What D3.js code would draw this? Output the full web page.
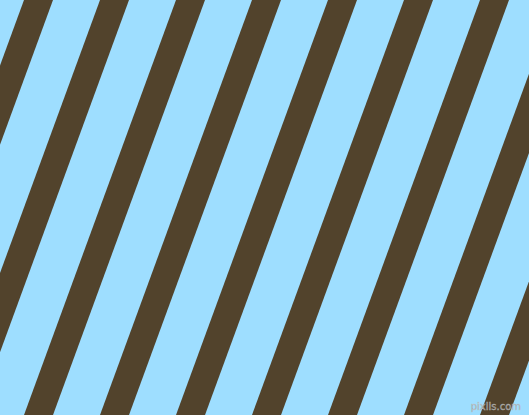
<!DOCTYPE html>
<html>
<head>
<meta charset="utf-8">
<script src="https://d3js.org/d3.v7.min.js"></script>
<style>
  html, body { margin: 0; padding: 0; background: #9edeff; overflow: hidden; }
  svg { display: block; }
</style>
</head>
<body>
<div id="stripes"></div>
<script>
// stripe data
var stripeIndex = [0, 1, 2, 3, 4, 5, 6, 7, 8];
var stripeColors = ["#9edeff", "#52432c"];   // background, stripe
var watermark = ["pixlis.com"];

function stripes_func () {
    var width = 529,
        height = 415,
        band = 29,          // stripe width measured across, at y=0
        drift = 152;        // horizontal travel of a stripe from top to bottom

    // index -> left edge of stripe at top of image
    var x = d3.scaleLinear().domain([0, 1]).range([24, 100]);
    // y -> horizontal offset caused by the lean
    var y = d3.scaleLinear().domain([0, height]).range([0, -drift]);

    var svg = d3.select("#stripes").append("svg")
            .attr("width", width)
            .attr("height", height);

    svg.append("rect")
        .attr("width", width)
        .attr("height", height)
        .attr("fill", stripeColors[0]);

    svg.append("g")
      .selectAll("polygon")
        .data(stripeIndex)
        .enter()
        .append("polygon")
        .attr("fill", stripeColors[1])
        .attr("points", function(d) {
            var x0 = x(d);
            return [
                [x0 + y(0), 0],
                [x0 + band + y(0), 0],
                [x0 + band + y(height), height],
                [x0 + y(height), height]
            ].map(function(p) { return p.join(","); }).join(" ");
        });

    // small site mark bottom right
    svg.selectAll(".mark")
        .data(watermark)
        .enter()
        .append("text")
        .attr("class", "mark")
        .attr("x", width - 8)
        .attr("y", height - 5)
        .attr("text-anchor", "end")
        .style("font-family", "'DejaVu Sans', sans-serif")
        .style("font-size", "10px")
        .style("fill", "#8c8c8c")
        .style("stroke", "#c8c8c8")
        .style("stroke-width", 0.4)
        .style("opacity", 0.85)
        .text(function(d) { return d; });
}

stripes_func();
</script>
</body>
</html>
